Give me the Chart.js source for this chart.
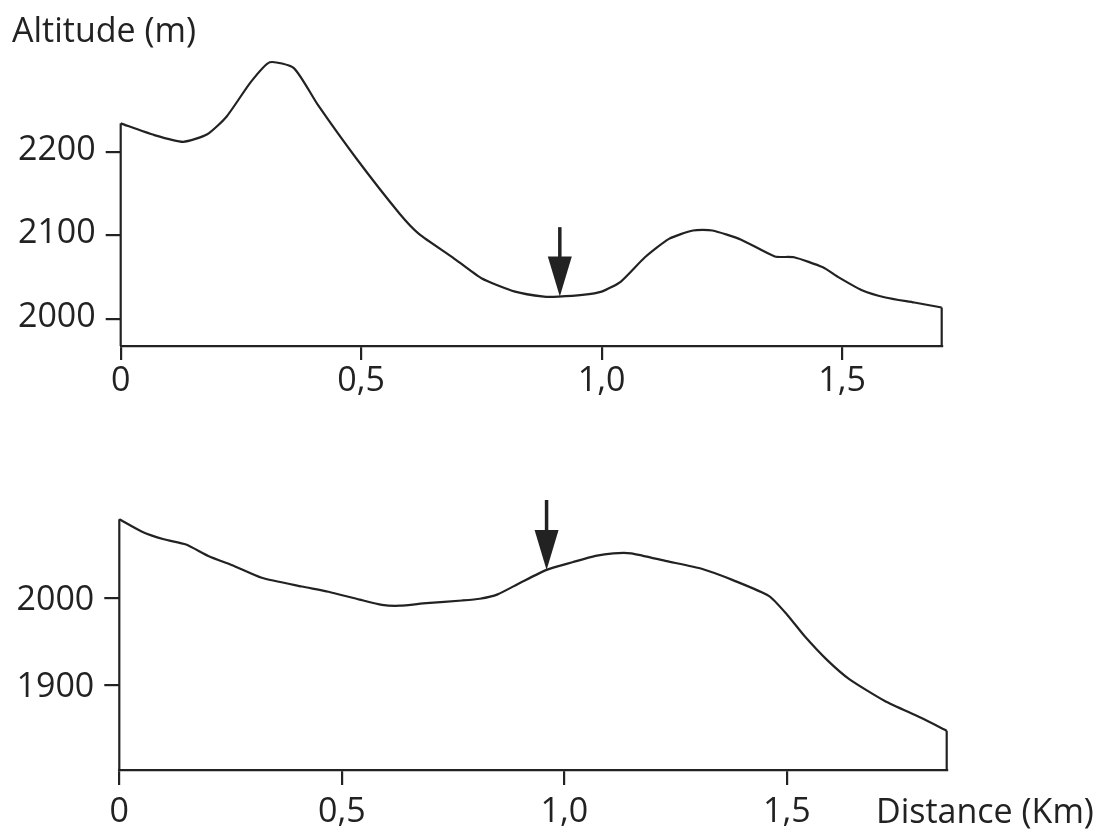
<!DOCTYPE html>
<html>
<head>
<meta charset="utf-8">
<script src="https://cdn.jsdelivr.net/npm/chart.js@4.4.1/dist/chart.umd.min.js"></script>
<style>
  body { margin: 0; background: #fff; }
  #page { position: relative; width: 1102px; height: 832px; overflow: hidden; }
  canvas { position: absolute; left: 0; }
  .label { position: absolute; font-family: 'Open Sans', sans-serif; font-size: 34px; line-height: 34px; color: #222; white-space: nowrap; }
</style>
</head>
<body>
<div id="page">
  <canvas id="topChart" width="1102" height="420" style="top:0"></canvas>
  <canvas id="bottomChart" width="1102" height="412" style="top:420px"></canvas>
  <div class="label" style="left:12px; top:12px">Altitude (m)</div>
  <div class="label" style="left:876px; top:793px">Distance (Km)</div>
</div>
<script>
// --- Datos de los perfiles ---

// Perfil superior: distancia (km) y altitud (m)
const topDist = [0, 0.07, 0.13, 0.18, 0.22, 0.27, 0.31, 0.36, 0.41, 0.49, 0.58, 0.62, 0.69, 0.75, 0.82,
  0.88, 0.91, 0.96, 1.00, 1.04, 1.09, 1.14, 1.19, 1.23, 1.29, 1.36, 1.40, 1.46, 1.49, 1.54, 1.59, 1.65, 1.707];
const topAlt = [2234, 2220, 2212, 2221, 2242, 2283, 2307, 2300, 2256, 2192, 2126, 2102, 2074, 2049, 2033,
  2027, 2027, 2029, 2033, 2045, 2074, 2096, 2106, 2106, 2095, 2075, 2074, 2062, 2051, 2035, 2026, 2020, 2014];
const topTicks = [2000, 2100, 2200];
const topArrow = { dist: 0.913, tip: 2027, tail: 2110 };

// Perfil inferior
const botDist = [0, 0.05, 0.10, 0.15, 0.20, 0.26, 0.32, 0.41, 0.47, 0.54, 0.59, 0.63, 0.69, 0.77, 0.81,
  0.85, 0.90, 0.96, 1.02, 1.07, 1.11, 1.15, 1.23, 1.31, 1.38, 1.46, 1.50, 1.54, 1.59, 1.64, 1.72, 1.80, 1.859];
const botAlt = [2090, 2076, 2067, 2061, 2048, 2036, 2023, 2013, 2007, 1998, 1992, 1991, 1994, 1997, 1999,
  2004, 2017, 2032, 2041, 2048, 2051, 2051, 2042, 2033, 2020, 2002, 1981, 1956, 1929, 1907, 1882, 1863, 1848];
const botTicks = [1900, 2000];
const botArrow = { dist: 0.96, tip: 2032, tail: 2112 };

const distTicks = [0, 0.5, 1.0, 1.5];

const INK = '#222';
Chart.defaults.font.family = "'Open Sans', sans-serif";
Chart.defaults.color = INK;

/**
 * Dibuja la flecha que marca el punto en el perfil.
 */
const arrowPlugin = {
  id: 'arrow',
  afterDatasetsDraw(chart, args, opts) {
    const a = opts.arrow;
    if (!a) return;
    const { ctx, scales: { x, y } } = chart;
    const px = x.getPixelForValue(a.dist);
    const tip = y.getPixelForValue(a.tip);
    const tail = y.getPixelForValue(a.tail);
    const headLen = 40, headW = 24;
    ctx.save();
    ctx.strokeStyle = INK;
    ctx.fillStyle = INK;
    ctx.lineWidth = 3.5;
    ctx.beginPath();
    ctx.moveTo(px, tail);
    ctx.lineTo(px, tip - headLen + 2);
    ctx.stroke();
    ctx.beginPath();
    ctx.moveTo(px - headW / 2, tip - headLen);
    ctx.lineTo(px + headW / 2, tip - headLen);
    ctx.lineTo(px, tip);
    ctx.closePath();
    ctx.fill();
    ctx.restore();
  }
};

function fmtKm(v) {
  return v === 0 ? '0' : v.toFixed(1).replace('.', ',');
}

/**
 * Crea un gráfico de perfil de altitud.
 */
function makeProfile(canvasId, dist, alt, cfg) {
  const line = dist.map((d, i) => ({ x: d, y: alt[i] }));
  const last = dist.length - 1;
  const edge = (i) => [{ x: dist[i], y: cfg.yMin }, { x: dist[i], y: alt[i] }];
  const lineStyle = { borderColor: INK, borderWidth: 2.2, pointRadius: 0, fill: false, clip: false };

  new Chart(document.getElementById(canvasId), {
    type: 'line',
    data: {
      datasets: [
        { ...lineStyle, data: line, tension: 0.2 },
        { ...lineStyle, data: edge(0), tension: 0 },
        { ...lineStyle, data: edge(last), tension: 0 }
      ]
    },
    options: {
      responsive: false,
      animation: false,
      layout: { padding: cfg.padding },
      plugins: {
        legend: { display: false },
        tooltip: { enabled: false },
        arrow: { arrow: cfg.arrow }
      },
      scales: {
        x: {
          type: 'linear',
          min: 0,
          max: dist[last],
          afterFit: (s) => { s.height = cfg.xHeight; },
          afterBuildTicks: (s) => { s.ticks = distTicks.map(v => ({ value: v })); },
          border: { display: true, color: INK, width: 2.2 },
          grid: { drawOnChartArea: false, drawTicks: true, tickLength: cfg.xTick, color: INK, lineWidth: 2.2 },
          ticks: {
            font: { size: 34 },
            color: INK,
            padding: cfg.xPad,
            maxRotation: 0,
            autoSkip: false,
            callback: fmtKm
          }
        },
        y: {
          min: cfg.yMin,
          max: cfg.yMax,
          afterFit: (s) => { s.width = cfg.yWidth; },
          afterBuildTicks: (s) => { s.ticks = cfg.ticks.map(v => ({ value: v })); },
          border: { display: false },
          grid: { drawOnChartArea: false, drawTicks: true, tickLength: 15, color: INK, lineWidth: 2.2 },
          ticks: {
            font: { size: 34 },
            color: INK,
            padding: 10,
            labelOffset: cfg.yOffset,
            callback: (v) => String(v)
          }
        }
      }
    },
    plugins: [arrowPlugin]
  });
}

makeProfile('topChart', topDist, topAlt, {
  yMin: 1968, yMax: 2320, ticks: topTicks, arrow: topArrow,
  padding: { top: 51.4, right: 160.3, left: 0, bottom: 0 },
  yWidth: 120.7, xHeight: 74, xTick: 14, xPad: 1, yOffset: -2
});

makeProfile('bottomChart', botDist, botAlt, {
  yMin: 1803, yMax: 2120, ticks: botTicks, arrow: botArrow,
  padding: { top: 73, right: 155.3, left: 0, bottom: 0 },
  yWidth: 119.3, xHeight: 62, xTick: 15, xPad: 7, yOffset: 2
});
</script>
</body>
</html>
